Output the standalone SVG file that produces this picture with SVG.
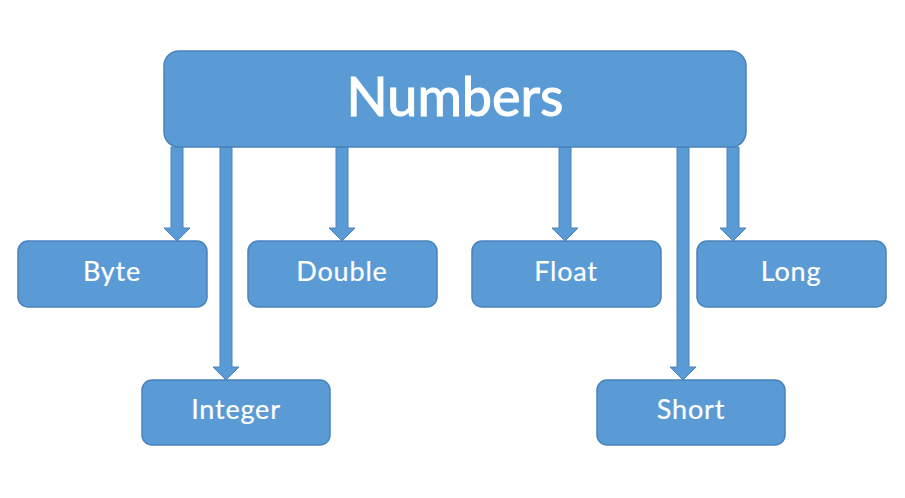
<svg xmlns="http://www.w3.org/2000/svg" width="905" height="498" viewBox="0 0 905 498">
<style>
.box{fill:#5B9BD5;stroke:#4A82BC;stroke-width:1.5}
.arr{fill:#5B9BD5;stroke:#4A82BC;stroke-width:1}
text{font-family:Lato,"Open Sans","Liberation Sans",sans-serif;fill:#FFFFFF;stroke:#FFFFFF;text-anchor:middle}
.sm{font-size:27px;stroke-width:0.2;letter-spacing:0.8px}
.lg{font-size:54px;stroke-width:1.1}
</style>
<rect width="905" height="498" fill="#FFFFFF"/>
<g id="connectors">
<path class="arr" d="M171,147 L183,147 L183,228 L190,228 L177,241 L164,228 L171,228 Z"/>
<path class="arr" d="M220,147 L232,147 L232,367 L239,367 L226,380 L213,367 L220,367 Z"/>
<path class="arr" d="M336,147 L348,147 L348,228 L355,228 L342,241 L329,228 L336,228 Z"/>
<path class="arr" d="M559,147 L571,147 L571,228 L578,228 L565,241 L552,228 L559,228 Z"/>
<path class="arr" d="M677,147 L689,147 L689,367 L696,367 L683,380 L670,367 L677,367 Z"/>
<path class="arr" d="M727,147 L739,147 L739,228 L746,228 L733,241 L720,228 L727,228 Z"/>
</g>
<g id="numbers">
<rect class="box" x="164" y="51" width="582" height="96" rx="15"/>
<text class="lg" x="455" y="116">Numbers</text>
</g>
<g id="byte">
<rect class="box" x="18" y="241" width="189" height="66" rx="10"/>
<text class="sm" x="112" y="281">Byte</text>
</g>
<g id="double">
<rect class="box" x="248" y="241" width="189" height="66" rx="10"/>
<text class="sm" x="342" y="281">Double</text>
</g>
<g id="float">
<rect class="box" x="472" y="241" width="189" height="66" rx="10"/>
<text class="sm" x="566" y="281">Float</text>
</g>
<g id="long">
<rect class="box" x="697" y="241" width="189" height="66" rx="10"/>
<text class="sm" x="791" y="281">Long</text>
</g>
<g id="integer">
<rect class="box" x="142" y="380" width="188" height="65" rx="10"/>
<text class="sm" x="236" y="419">Integer</text>
</g>
<g id="short">
<rect class="box" x="597" y="380" width="188" height="65" rx="10"/>
<text class="sm" x="691" y="419">Short</text>
</g>
</svg>
